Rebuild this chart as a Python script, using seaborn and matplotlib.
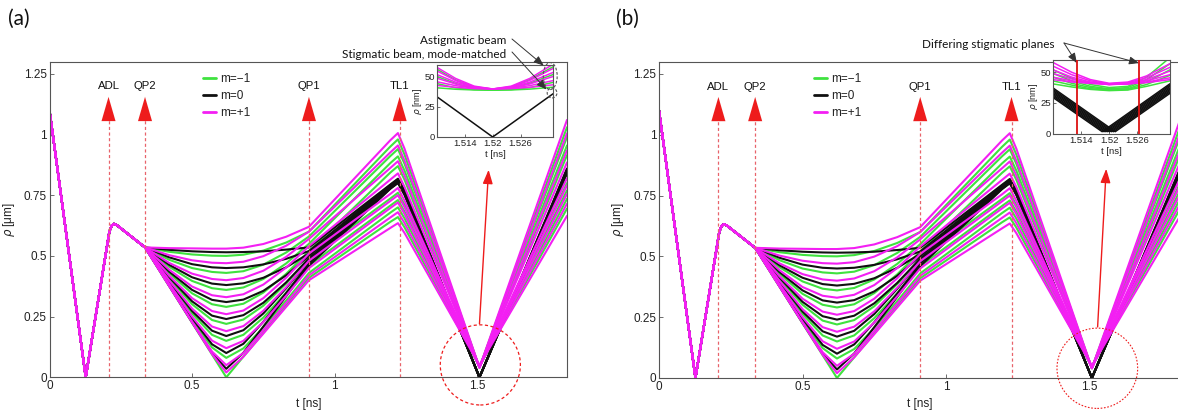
import matplotlib
matplotlib.use("Agg")
import matplotlib.pyplot as plt
import pandas as pd
import seaborn as sns
from matplotlib.lines import Line2D
from matplotlib.patches import Ellipse

sns.set_theme(style="white")
plt.rcParams["font.family"] = ["Liberation Sans", "DejaVu Sans"]

W, H = 1178, 416

# ---------------- data: main trajectories (rho in um, t in ns) ----------------
FAMILIES = ["m=\u22121", "m=0", "m=+1"]
COLORS = {"m=\u22121": "#3fe23f", "m=0": "#101010", "m=+1": "#f31ff3"}

T_PRE = [0.0, 0.127, 0.210, 0.218, 0.226, 0.236, 0.335]
RHO_PRE = [1.10, 0.0, 0.600, 0.625, 0.632, 0.627, 0.535]
T_FAN = [0.42, 0.50, 0.57, 0.62, 0.68, 0.75, 0.83, 0.91]
T_TAIL = [1.195, 1.222, 1.245, 1.508, 1.815]

FAN_GREEN = [
    [0.375, 0.225, 0.094, 0.000, 0.085, 0.184, 0.297, 0.41],
    [0.379, 0.236, 0.123, 0.080, 0.119, 0.206, 0.316, 0.43],
    [0.390, 0.263, 0.175, 0.150, 0.175, 0.246, 0.349, 0.46],
    [0.407, 0.301, 0.236, 0.220, 0.238, 0.295, 0.386, 0.49],
    [0.428, 0.346, 0.301, 0.290, 0.303, 0.349, 0.426, 0.52],
    [0.455, 0.397, 0.367, 0.360, 0.370, 0.405, 0.469, 0.55],
    [0.484, 0.450, 0.434, 0.430, 0.437, 0.464, 0.514, 0.58],
    [0.517, 0.506, 0.501, 0.500, 0.505, 0.522, 0.555, 0.60],
]
FAN_BLACK = [
    [0.376, 0.227, 0.100, 0.035, 0.101, 0.209, 0.334, 0.46],
    [0.382, 0.243, 0.136, 0.100, 0.138, 0.229, 0.347, 0.47],
    [0.394, 0.273, 0.192, 0.170, 0.194, 0.263, 0.367, 0.48],
    [0.412, 0.313, 0.254, 0.240, 0.256, 0.307, 0.391, 0.49],
    [0.435, 0.360, 0.319, 0.310, 0.320, 0.356, 0.420, 0.50],
    [0.463, 0.412, 0.386, 0.380, 0.387, 0.410, 0.453, 0.51],
    [0.494, 0.466, 0.453, 0.450, 0.453, 0.465, 0.488, 0.52],
    [0.525, 0.519, 0.516, 0.515, 0.516, 0.519, 0.526, 0.535],
]
FAN_MAGENTA = [
    [0.375, 0.226, 0.096, 0.020, 0.085, 0.180, 0.290, 0.40],
    [0.377, 0.230, 0.106, 0.050, 0.100, 0.194, 0.306, 0.42],
    [0.385, 0.250, 0.151, 0.120, 0.150, 0.228, 0.336, 0.45],
    [0.399, 0.283, 0.209, 0.190, 0.211, 0.274, 0.371, 0.48],
    [0.418, 0.326, 0.273, 0.260, 0.275, 0.326, 0.410, 0.51],
    [0.443, 0.374, 0.338, 0.330, 0.342, 0.382, 0.452, 0.54],
    [0.471, 0.427, 0.405, 0.400, 0.409, 0.439, 0.496, 0.57],
    [0.503, 0.482, 0.472, 0.470, 0.476, 0.499, 0.542, 0.60],
    [0.532, 0.531, 0.530, 0.530, 0.534, 0.549, 0.579, 0.62],
]

# values at TL1 approach, TL1 peak, after TL1, at the focus and at the right edge
TL1_IN_GREEN = [0.640, 0.678, 0.707, 0.736, 0.843, 0.882, 0.911, 0.950]
TL1_PEAK_GREEN = [0.66, 0.70, 0.73, 0.76, 0.87, 0.91, 0.94, 0.98]
TL1_OUT_GREEN = [0.618, 0.655, 0.683, 0.711, 0.814, 0.852, 0.880, 0.918]
FOCUS_GREEN = [0.046, 0.045, 0.044, 0.043, 0.042, 0.041, 0.040, 0.040]
END_GREEN = [0.695, 0.735, 0.770, 0.800, 0.915, 0.955, 0.990, 1.030]

TL1_IN_BLACK = [0.776, 0.778, 0.781, 0.783, 0.786, 0.788, 0.791, 0.794]
TL1_PEAK_BLACK = [0.800, 0.802, 0.805, 0.807, 0.810, 0.812, 0.815, 0.818]
TL1_OUT_BLACK = [0.752, 0.754, 0.757, 0.759, 0.762, 0.764, 0.767, 0.770]
FOCUS_BLACK = [0.0, 0.0, 0.0, 0.0, 0.0, 0.0, 0.0, 0.0]
END_BLACK = [0.840, 0.843, 0.846, 0.848, 0.851, 0.853, 0.856, 0.860]

TL1_IN_MAGENTA = [0.615, 0.658, 0.697, 0.726, 0.755, 0.814, 0.862, 0.926, 0.976]
TL1_PEAK_MAGENTA = [0.635, 0.680, 0.720, 0.750, 0.780, 0.840, 0.890, 0.955, 1.006]
TL1_OUT_MAGENTA = [0.595, 0.636, 0.673, 0.701, 0.728, 0.785, 0.832, 0.893, 0.942]
FOCUS_MAGENTA = [0.050, 0.048, 0.046, 0.044, 0.042, 0.041, 0.040, 0.040, 0.040]
END_MAGENTA = [0.665, 0.715, 0.755, 0.790, 0.820, 0.885, 0.935, 1.005, 1.060]

# ---------------- data: insets (rho in nm) ----------------
T_INSET = [1.508, 1.512, 1.516, 1.520, 1.524, 1.528, 1.533]

INSET_A_GREEN = [
    [56.5, 47.5, 41.5, 39.0, 41.5, 47.8, 58.5],
    [50.5, 44.5, 40.5, 39.0, 40.5, 44.8, 52.0],
    [44.5, 41.0, 39.5, 39.0, 39.5, 41.2, 45.5],
    [41.0, 39.8, 39.2, 39.0, 39.2, 39.9, 41.5],
]
INSET_A_MAGENTA = [
    [58.0, 48.8, 42.4, 40.0, 42.4, 48.8, 60.6],
    [55.0, 47.2, 41.9, 40.0, 41.9, 47.2, 57.1],
    [52.0, 45.7, 41.5, 40.0, 41.5, 45.7, 53.8],
    [49.0, 44.2, 41.1, 40.0, 41.1, 44.2, 50.4],
    [46.0, 42.8, 40.7, 40.0, 40.7, 42.8, 47.0],
    [43.0, 41.4, 40.3, 40.0, 40.3, 41.4, 43.5],
]
T_INSET_A_BLACK = [1.508, 1.520, 1.533]
INSET_A_BLACK = [33.5, 0.0, 36.0]

INSET_B_GREEN = [
    [52.0, 45.0, 40.0, 37.5, 38.5, 46.0, 62.0],
    [49.0, 43.0, 38.5, 36.5, 37.5, 44.0, 57.0],
    [46.0, 41.0, 37.5, 36.0, 36.5, 42.0, 52.0],
    [43.0, 39.5, 36.5, 35.5, 36.0, 40.0, 47.5],
    [40.5, 38.0, 36.0, 35.0, 35.5, 38.5, 43.0],
]
INSET_B_MAGENTA = [
    [58.0, 50.0, 44.0, 41.0, 42.0, 47.0, 57.0],
    [55.0, 48.0, 43.0, 40.5, 41.5, 45.5, 54.0],
    [52.0, 46.0, 42.0, 40.0, 41.0, 44.0, 51.0],
    [49.0, 44.5, 41.5, 40.0, 40.5, 43.0, 48.0],
    [46.0, 43.0, 41.0, 40.0, 40.5, 42.0, 45.5],
    [44.0, 42.0, 41.0, 40.5, 40.5, 41.5, 44.0],
]
INSET_B_BLACK_TMIN = [1.5185, 1.5189, 1.5193, 1.5197, 1.5201, 1.5205, 1.5209, 1.5213]
INSET_B_BLACK_LEFT = [29.4, 30.5, 31.6, 32.8, 33.9, 35.0, 36.1, 37.2]
INSET_B_BLACK_MIN = [1.5, 1.5, 1.5, 1.5, 1.5, 1.5, 1.5, 1.5]
INSET_B_BLACK_RIGHT = [40.6, 39.5, 38.4, 37.2, 36.1, 35.0, 33.9, 32.8]
STIGMATIC_PLANES = [1.5131, 1.5264]

ELEMENTS = ["ADL", "QP2", "QP1", "TL1"]
ELEMENT_T = [0.207, 0.335, 0.910, 1.228]
X_TICKS = [0, 0.5, 1, 1.5]
X_TICKLABELS = ["0", "0.5", "1", "1.5"]
Y_TICKS = [0, 0.25, 0.5, 0.75, 1, 1.25]
Y_TICKLABELS = ["0", "0.25", "0.5", "0.75", "1", "1.25"]
IN_X_TICKS = [1.514, 1.52, 1.526]
IN_X_TICKLABELS = ["1.514", "1.52", "1.526"]
IN_Y_TICKS = [0, 25, 50]

# ---------------- build long-form tables ----------------
def main_table():
    rows = []
    cid = 0
    groups = [
        ("m=\u22121", FAN_GREEN, TL1_IN_GREEN, TL1_PEAK_GREEN, TL1_OUT_GREEN, FOCUS_GREEN, END_GREEN),
        ("m=0", FAN_BLACK, TL1_IN_BLACK, TL1_PEAK_BLACK, TL1_OUT_BLACK, FOCUS_BLACK, END_BLACK),
        ("m=+1", FAN_MAGENTA, TL1_IN_MAGENTA, TL1_PEAK_MAGENTA, TL1_OUT_MAGENTA, FOCUS_MAGENTA, END_MAGENTA),
    ]
    for fam, fan, tin, pk, tout, foc, end in groups:
        for k in range(len(fan)):
            ts = T_PRE + T_FAN + T_TAIL
            rs = RHO_PRE + fan[k] + [tin[k], pk[k], tout[k], foc[k], end[k]]
            for t, r in zip(ts, rs):
                rows.append((t, r, fam, cid))
            cid += 1
    return pd.DataFrame(rows, columns=["t", "rho", "m", "curve"])


def inset_table(green, black_t, black_r, magenta):
    rows = []
    cid = 0
    for vals in green:
        for t, r in zip(T_INSET, vals):
            rows.append((t, r, "m=\u22121", cid))
        cid += 1
    for ts, rs in zip(black_t, black_r):
        for t, r in zip(ts, rs):
            rows.append((t, r, "m=0", cid))
        cid += 1
    for vals in magenta:
        for t, r in zip(T_INSET, vals):
            rows.append((t, r, "m=+1", cid))
        cid += 1
    return pd.DataFrame(rows, columns=["t", "rho", "m", "curve"])


df_main = main_table()
df_in_a = inset_table(INSET_A_GREEN, [T_INSET_A_BLACK], [INSET_A_BLACK], INSET_A_MAGENTA)
b_black_t = [[1.508, tm, 1.533] for tm in INSET_B_BLACK_TMIN]
b_black_r = [[l, m, r] for l, m, r in zip(INSET_B_BLACK_LEFT, INSET_B_BLACK_MIN, INSET_B_BLACK_RIGHT)]
df_in_b = inset_table(INSET_B_GREEN, b_black_t, b_black_r, INSET_B_MAGENTA)

# ---------------- figure ----------------
fig = plt.figure(figsize=(W / 100, H / 100), dpi=100)
fig.patch.set_facecolor("white")


def px(x0, y0, x1, y1):
    return [x0 / W, 1 - y1 / H, (x1 - x0) / W, (y1 - y0) / H]


SPINE = "#555555"
RED = "#ee1c1c"
DASHRED = "#e8636b"


def style_axes(ax, fs):
    for s in ax.spines.values():
        s.set_color(SPINE)
        s.set_linewidth(0.8)
    ax.tick_params(direction="in", length=3, width=0.6, colors=SPINE,
                   labelcolor="#222222", labelsize=fs, pad=2,
                   bottom=True, left=True, top=False, right=False)
    ax.grid(False)


def draw_main(ax, xmax):
    sns.lineplot(data=df_main, x="t", y="rho", hue="m", hue_order=FAMILIES,
                 palette=COLORS, units="curve", estimator=None, sort=False,
                 linewidth=1.5, legend=False, ax=ax)
    ax.set_xlim(0, xmax)
    ax.set_ylim(0, 1.30)
    ax.set_xticks(X_TICKS, X_TICKLABELS)
    ax.set_yticks(Y_TICKS, Y_TICKLABELS)
    ax.set_xlabel("t [ns]", fontsize=8.5, labelpad=4, color="#222222")
    ax.set_ylabel(r"$\rho$ [μm]", fontsize=8.5, labelpad=5, color="#222222")
    style_axes(ax, 8.5)
    # optical elements
    for name, t in zip(ELEMENTS, ELEMENT_T):
        ax.vlines(t, 0, 1.07, colors=DASHRED, linestyles=(0, (2.5, 2)), linewidth=0.9, zorder=5)
        ax.annotate("", xy=(t, 1.155), xytext=(t, 1.065),
                    arrowprops=dict(arrowstyle="-|>,head_length=1.45,head_width=0.42",
                                    color=RED, lw=0.01, shrinkA=0, shrinkB=0), zorder=6)
        ax.text(t, 1.198, name, ha="center", va="center", fontsize=8.2, color="#111111")
    handles = [Line2D([], [], color=COLORS[f], lw=2) for f in FAMILIES]
    leg = ax.legend(handles, FAMILIES, loc="upper left", bbox_to_anchor=(0.288, 0.98),
                    frameon=False, fontsize=8.5, handlelength=1.1, handletextpad=0.35,
                    labelspacing=0.42, borderaxespad=0)
    for txt in leg.get_texts():
        txt.set_color("#222222")


def draw_inset(ax, df, ymax):
    sns.lineplot(data=df, x="t", y="rho", hue="m", hue_order=FAMILIES,
                 palette=COLORS, units="curve", estimator=None, sort=False,
                 linewidth=1.1, legend=False, ax=ax)
    ax.set_facecolor("white")
    ax.set_xlim(1.508, 1.533)
    ax.set_ylim(0, ymax)
    ax.set_xticks(IN_X_TICKS, IN_X_TICKLABELS)
    ax.set_yticks(IN_Y_TICKS, [str(v) for v in IN_Y_TICKS])
    ax.set_xlabel("t [ns]", fontsize=6.8, labelpad=1.5, color="#222222")
    ax.set_ylabel(r"$\rho$ [nm]", fontsize=6.5, labelpad=0.5, color="#222222")
    style_axes(ax, 6.8)
    ax.tick_params(length=2, pad=1.5)


# ----- panel (a)
ax_a = fig.add_axes(px(49.5, 61.7, 567, 377.3))
draw_main(ax_a, 1.815)
ax_a.add_patch(Ellipse((1.511, 0.051), 0.281, 0.33, fill=False, edgecolor=RED,
                       linestyle=(0, (2.5, 2)), linewidth=0.9, clip_on=False, zorder=7))
ax_a.annotate("", xy=(1.540, 0.855), xytext=(1.508, 0.22),
              arrowprops=dict(arrowstyle="-|>,head_length=0.7,head_width=0.25",
                              color=RED, lw=1.0, shrinkA=0, shrinkB=0))

in_a = fig.add_axes(px(437, 65, 553, 137))
draw_inset(in_a, df_in_a, 60)
in_a.add_patch(Ellipse((1.5324, 50.8), 0.003, 22.5, fill=False, edgecolor="#555555",
                       linestyle=(0, (2.5, 1.5)), linewidth=0.8, clip_on=False, zorder=8))
in_a.add_patch(Ellipse((1.5328, 36.7), 0.0021, 8.3, fill=False, edgecolor="#555555",
                       linestyle=(0, (2.5, 1.5)), linewidth=0.8, clip_on=False, zorder=8))
for label, ty, target in [("Astigmatic beam", 41, (1.5310, 59.5)),
                          ("Stigmatic beam, mode-matched", 54, (1.5316, 39.5))]:
    fig.text(506 / W, 1 - ty / H, label, ha="right", va="center", fontsize=8.5,
             family=["Lato", "DejaVu Sans"], color="#111111")
    in_a.annotate("", xy=target, xycoords="data", xytext=(512 / W, 1 - (ty - 2) / H),
                  textcoords="figure fraction",
                  arrowprops=dict(arrowstyle="-|>,head_length=0.5,head_width=0.2",
                                  color="#333333", lw=0.7, shrinkA=0, shrinkB=0),
                  annotation_clip=False)

# ----- panel (b)
ax_b = fig.add_axes(px(659, 61.7, 1180, 378))
draw_main(ax_b, 1.815)
ax_b.add_patch(Ellipse((1.527, 0.04), 0.281, 0.33, fill=False, edgecolor=RED,
                       linestyle=(0, (1.5, 1.5)), linewidth=0.8, clip_on=False, zorder=7))
ax_b.annotate("", xy=(1.558, 0.86), xytext=(1.528, 0.21),
              arrowprops=dict(arrowstyle="-|>,head_length=0.7,head_width=0.25",
                              color=RED, lw=1.0, shrinkA=0, shrinkB=0))

in_b = fig.add_axes(px(1053, 60, 1170, 133.5))
draw_inset(in_b, df_in_b, 60)
for tp in STIGMATIC_PLANES:
    in_b.axvline(tp, color="#dd1111", lw=1.3, zorder=6)
fig.text(1055 / W, 1 - 44 / H, "Differing stigmatic planes", ha="right", va="center",
         fontsize=8.5, family=["Lato", "DejaVu Sans"], color="#111111")
for tp in STIGMATIC_PLANES:
    in_b.annotate("", xy=(tp, 57.5), xycoords="data", xytext=(1064 / W, 1 - 43 / H),
                  textcoords="figure fraction",
                  arrowprops=dict(arrowstyle="-|>,head_length=0.5,head_width=0.2",
                                  color="#333333", lw=0.7, shrinkA=0, shrinkB=0),
                  annotation_clip=False)

# panel labels
fig.text(8 / W, 1 - 19 / H, "(a)", fontsize=15, va="center", ha="left",
         family=["Lato", "DejaVu Sans"], color="#111111")
fig.text(616 / W, 1 - 19 / H, "(b)", fontsize=15, va="center", ha="left",
         family=["Lato", "DejaVu Sans"], color="#111111")

fig.savefig("out.png", dpi=100, facecolor="white")
